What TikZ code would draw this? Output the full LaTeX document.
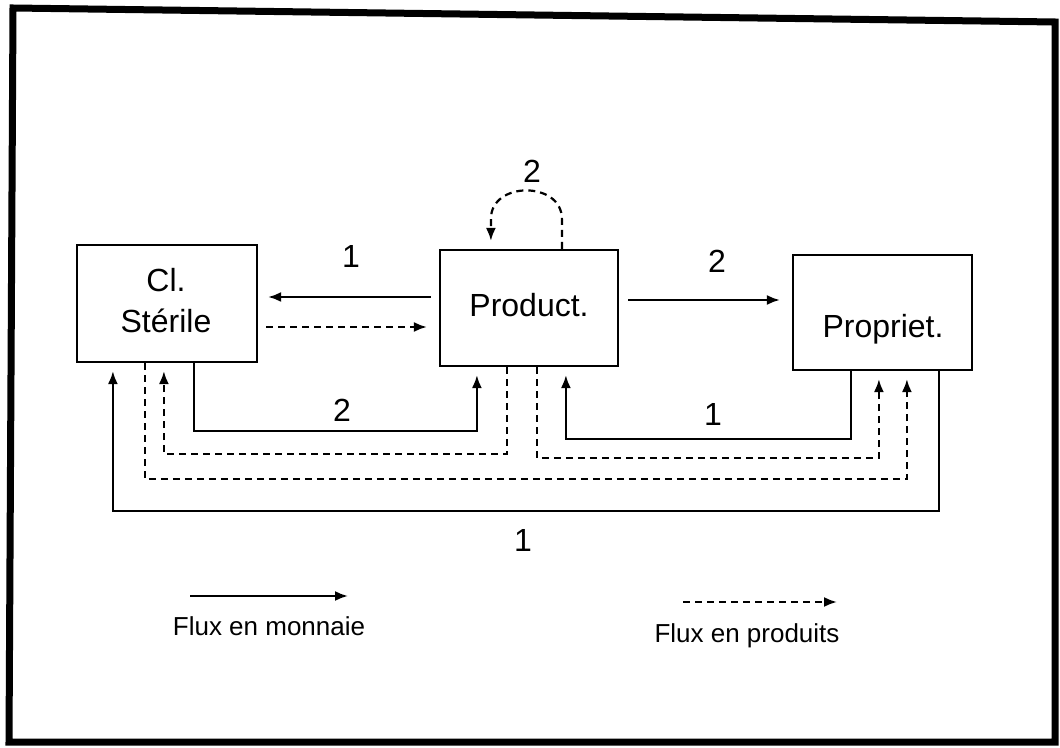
\documentclass[tikz,border=0pt]{standalone}
\usepackage{fontspec}
\setmainfont{Liberation Sans}
\usetikzlibrary{arrows.meta,calc}
\begin{document}
\begin{tikzpicture}[x=0.5pt,y=-0.5pt,
  box/.style={draw,line width=1.1pt,inner sep=0pt},
  money/.style={line width=1.1pt,shorten >=4pt,-{Latex[length=6.5pt,width=5pt]}},
  goods/.style={line width=1.1pt,dash pattern=on 3.5pt off 2.5pt,shorten >=4pt,-{Latex[length=6.5pt,width=5pt]}},
  lbl/.style={font=\fontsize{16}{18}\selectfont,anchor=base,inner sep=0pt},
  num/.style={font=\fontsize{16}{18}\selectfont,inner sep=0pt},
  leg/.style={font=\fontsize{13}{15}\selectfont,anchor=base,inner sep=0pt}]
\useasboundingbox (0,0) rectangle (1060,748);
% outer frame
\draw[line width=3.5pt,line join=miter] (13,8) -- (1055,22) -- (1055,742) -- (9,742) -- cycle;

% boxes
\node[box,minimum width=90pt,minimum height=58.5pt] (cs) at (167,303.5) {};
\node[box,minimum width=89pt,minimum height=58pt] (prod) at (529,308) {};
\node[box,minimum width=89.5pt,minimum height=57.5pt] (prop) at (882.5,312.5) {};
\node[lbl] (cst1) at (166,292) {Cl.};
\node[lbl] (cst2) at (166,333) {Stérile};
\node[lbl] (prodt) at (529,317) {Product.};
\node[lbl] (propt) at (883,338) {Propriet.};

% horizontal flows
\draw[money] ($(prod.west)+(-8,-11)$) -- ($(cs.east)+(2,-6.5)$);
\draw[goods] ($(cs.east)+(8,23.5)$) -- ($(prod.west)+(-4,19)$);
\draw[money] ($(prod.east)+(9,-8)$) -- ($(prop.west)+(-4,-12.5)$);
\node[num] (n1a) at (351,256) {1};
\node[num] (n2a) at (717,261) {2};

% self loop on Product.
\draw[goods] ($(prod.north west)+(123,0)$) -- ++(0,-30)
  .. controls ++(0,-38) and ($(prod.north west)+(52,-68)$) .. ($(prod.north west)+(52,-30)$)
  -- ($(prod.north west)+(52,0)$);
\node[num] (n2loop) at (532,171) {2};

% bottom flows (money)
\draw[money] ($(prop.south west)+(147,0)$) -- ++(0,140) -| ($(cs.south west)+(37,0)$);
\draw[money] ($(cs.south west)+(118,0)$) -- ++(0,68) -| ($(prod.south west)+(38,0)$);
\draw[money] ($(prop.south west)+(59,0)$) -- ++(0,68) -| ($(prod.south west)+(127,0)$);
\node[num] (n2b) at (342,410) {2};
\node[num] (n1b) at (713,414) {1};
\node[num] (n1c) at (523,540) {1};

% bottom flows (goods)
\draw[goods] ($(prod.south west)+(68,0)$) -- ++(0,87) -| ($(cs.south west)+(88,0)$);
\draw[goods] ($(cs.south west)+(69,0)$) -- ++(0,116) -| ($(prop.south west)+(115,0)$);
\draw[goods] ($(prod.south west)+(98,0)$) -- ++(0,91) -| ($(prop.south west)+(87,0)$);

% legend
\coordinate (lm1) at (190,596);
\coordinate (lm2) at (348,596);
\coordinate (lp1) at (683,602);
\coordinate (lp2) at (837,602);
\draw[money,shorten >=0pt] (lm1) -- (lm2);
\draw[goods,shorten >=0pt] (lp1) -- (lp2);
\node[leg] (legm) at (269,635) {Flux en monnaie};
\node[leg] (legp) at (747,642) {Flux en produits};
\end{tikzpicture}
\end{document}
